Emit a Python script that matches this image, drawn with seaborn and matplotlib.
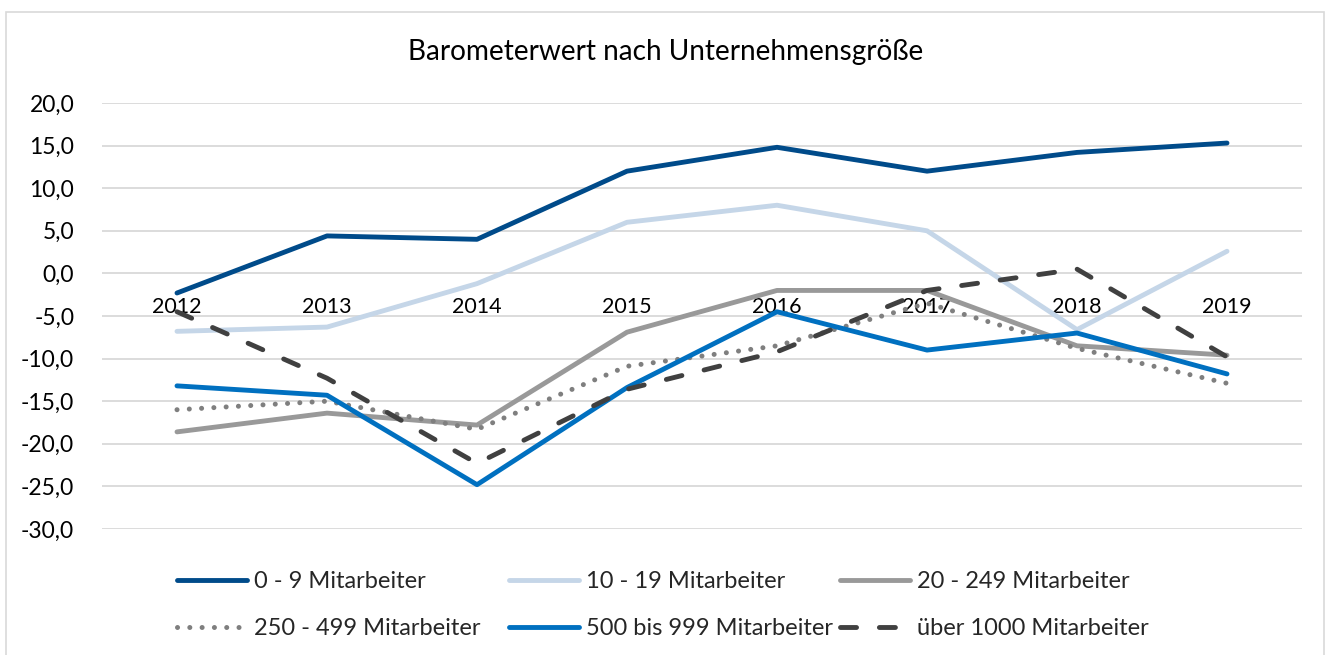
import matplotlib
matplotlib.use("Agg")
import matplotlib.pyplot as plt
import matplotlib.patches as mpatches
from matplotlib.ticker import FuncFormatter, MultipleLocator
import seaborn as sns
import pandas as pd

years = ["2012", "2013", "2014", "2015", "2016", "2017", "2018", "2019"]
series_names = ["0 - 9 Mitarbeiter", "10 - 19 Mitarbeiter", "20 - 249 Mitarbeiter",
                "250 - 499 Mitarbeiter", "500 bis 999 Mitarbeiter", "über 1000 Mitarbeiter"]
s_0_9 = [-2.3, 4.4, 4.0, 12.0, 14.8, 12.0, 14.2, 15.3]
s_10_19 = [-6.8, -6.3, -1.2, 6.0, 8.0, 5.0, -6.6, 2.6]
s_20_249 = [-18.6, -16.4, -17.8, -6.9, -2.0, -2.0, -8.5, -9.6]
s_250_499 = [-16.0, -15.0, -18.3, -10.9, -8.5, -3.5, -8.8, -12.9]
s_500_999 = [-13.2, -14.3, -24.8, -13.4, -4.5, -9.0, -7.0, -11.8]
s_1000 = [-4.5, -12.3, -22.3, -13.6, -9.2, -2.0, 0.5, -9.8]
title = "Barometerwert nach Unternehmensgröße"

values = [s_0_9, s_10_19, s_20_249, s_250_499, s_500_999, s_1000]
colors = ["#004B8A", "#C5D6E8", "#999999", "#7F7F7F", "#0070C0", "#404040"]

sns.set_theme(style="white")
plt.rcParams["font.family"] = ["Lato", "DejaVu Sans"]

fig = plt.figure(figsize=(13.3, 6.55), dpi=100)
ax = fig.add_axes([102/1330, 1-529/655, 1200/1330, 426/655])

handles = []
for name, vals, col in zip(series_names, values, colors):
    df = pd.DataFrame({"x": range(len(years)), "y": vals})
    sns.lineplot(data=df, x="x", y="y", ax=ax, color=col, linewidth=3.5,
                 legend=False, zorder=3)
    handles.append(ax.lines[-1])

# styles
handles[3].set_linestyle((0, (0.01, 2.45)))
handles[3].set_dash_capstyle("round")
handles[3].set_linewidth(3.6)
handles[5].set_linestyle((0, (3.3, 4.7)))
handles[5].set_dash_capstyle("round")
for h in handles:
    h.set_solid_capstyle("round")

ax.set_xlim(-0.5, len(years) - 0.5)
ax.set_ylim(-30, 20)
ax.yaxis.set_major_locator(MultipleLocator(5))
ax.yaxis.set_major_formatter(FuncFormatter(lambda v, p: f"{v:.1f}".replace(".", ",")))
ax.set_xticks(range(len(years)))
ax.set_xticklabels(years)
ax.spines["bottom"].set_position(("data", 0))
for s in ax.spines.values():
    s.set_visible(False)
ax.grid(axis="y", color="#D9D9D9", linewidth=1.3, zorder=0)
ax.grid(axis="x", visible=False)
ax.tick_params(axis="y", length=0, pad=20, labelsize=16.5, labelcolor="black")
ax.tick_params(axis="x", length=0, pad=17, labelsize=15.5, labelcolor="black")
ax.set_xlabel("")
ax.set_ylabel("")
ax.set_axisbelow(True)

fig.text(666/1330, 1 - 52/655, title, ha="center", va="center", fontsize=20.2, color="black")

# outer frame
fig.patches.append(mpatches.Rectangle((6/1330, -0.05), 1318/1330, 1.05 - 12/655,
                                      transform=fig.transFigure, fill=False,
                                      edgecolor="#D9D9D9", linewidth=1.2))

col_x = [177/1330, 509/1330, 840/1330]
for c in range(3):
    hs = [handles[c], handles[c + 3]]
    ls = [series_names[c], series_names[c + 3]]
    fig.legend(hs, ls, loc="center left", bbox_to_anchor=(col_x[c], 1 - 605/655),
               frameon=False, fontsize=17, handlelength=2.95, handletextpad=0.3,
               borderpad=0, borderaxespad=0, labelspacing=1.1)

fig.savefig("out.png", dpi=100)
